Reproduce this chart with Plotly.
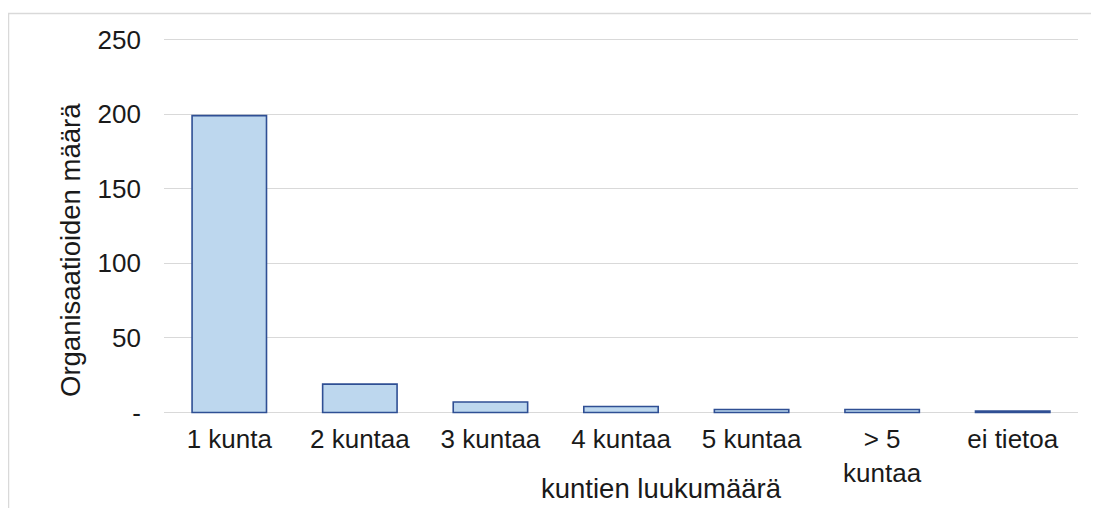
import plotly.graph_objects as go

# data
categories = ['1 kunta', '2 kuntaa', '3 kuntaa', '4 kuntaa', '5 kuntaa', '> 5<br>kuntaa', 'ei tietoa']
counts = [199, 19, 7, 4, 2, 2, 1]
y_ticks = [0, 50, 100, 150, 200, 250]
y_ticktext = ['-', '50', '100', '150', '200', '250']

FONT = 'Liberation Sans, Arial, sans-serif'
OFF = 8  # page body margin of the browser
W, H = 1099 - OFF, 508 - OFF
# plot area padded by 1 unit above/below so the edge gridlines are not clipped
L, R, T, B = 164 - OFF, 21, 30, 94
pw, ph = W - L - R, H - T - B

fig = go.Figure()
fig.add_trace(go.Bar(
    x=categories, y=counts,
    marker=dict(color='#BDD7EE', line=dict(color='#2F4F94', width=1.6)),
    width=0.57,
))

fig.update_layout(
    width=W, height=H,
    margin=dict(l=L, r=R, t=T, b=B),
    paper_bgcolor='white', plot_bgcolor='white',
    font=dict(family=FONT, size=26, color='#1a1a1a'),
    showlegend=False,
)
fig.update_yaxes(
    range=[-1, 251], tickvals=y_ticks, ticktext=y_ticktext,
    showgrid=True, gridcolor='#d9d9d9', gridwidth=1.3,
    zeroline=False, showline=False, ticklabelstandoff=22,
)
fig.update_xaxes(showgrid=False, showline=False, ticklabelstandoff=7)


def px(xr):
    return (xr - OFF - L) / pw


def py(yr):
    return 1 - (yr - OFF - T) / ph


# axis titles (reference pixel coords)
fig.add_annotation(text='Organisaatioiden määrä', textangle=-90,
                   xref='paper', yref='paper', xanchor='center', yanchor='middle',
                   x=px(70), y=py(250), showarrow=False, font=dict(size=27.5))
fig.add_annotation(text='kuntien luukumäärä',
                   xref='paper', yref='paper', xanchor='center', yanchor='middle',
                   x=px(661), y=py(488), showarrow=False, font=dict(size=27.5))

# outer chart border
fig.add_shape(type='rect', xref='paper', yref='paper',
              x0=px(8.5), x1=px(1110), y0=py(530), y1=py(13.5),
              line=dict(color='#d9d9d9', width=1.5), fillcolor='rgba(0,0,0,0)')

fig.write_html('out.html')
